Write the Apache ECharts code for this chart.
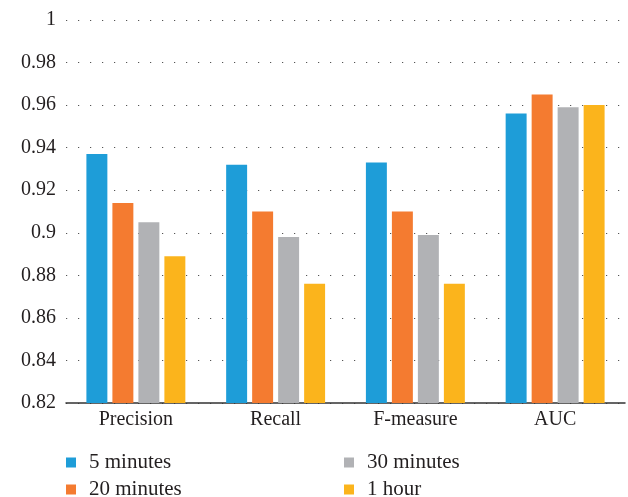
<!DOCTYPE html>
<html>
<head>
<meta charset="utf-8">
<script src="https://cdn.jsdelivr.net/npm/echarts@6/dist/echarts.min.js"></script>
<style>
  html, body { margin: 0; padding: 0; background: #fff; }
  #chart { width: 628px; height: 497px; }
</style>
</head>
<body>
<div id="chart"></div>
<script>
  var categories = ['Precision', 'Recall', 'F-measure', 'AUC']
  var min5 = [0.937, 0.932, 0.933, 0.956]
  var min20 = [0.914, 0.910, 0.910, 0.965]
  var min30 = [0.905, 0.898, 0.899, 0.959]
  var hour1 = [0.889, 0.876, 0.876, 0.960]
  var seriesNames = ['5 minutes', '20 minutes', '30 minutes', '1 hour']
  var colors = ['#1e9dd8', '#f47b30', '#b1b2b5', '#fbb41c']

  var font = 'Liberation Serif'
  var textColor = '#231f20'

  function bar(name, data) {
    return {
      name: name,
      type: 'bar',
      data: data,
      barWidth: '15%',
      barGap: '24%'
    }
  }

  // one legend per column, so the items stack like the original
  function legendBox(names, left) {
    return {
      data: names,
      orient: 'vertical',
      left: left,
      top: 452,
      height: 80,
      padding: 0,
      icon: 'rect',
      itemWidth: 10,
      itemHeight: 10,
      itemGap: 6,
      textStyle: {
        fontFamily: font,
        fontSize: 21,
        lineHeight: 20,
        color: textColor,
        padding: [0, 0, 0, 8]
      }
    }
  }

  var myChart = echarts.init(document.getElementById('chart'))
  myChart.setOption({
    color: colors,
    animation: false,
    grid: {
      left: 66,
      right: 3,
      top: 20,
      bottom: 94
    },
    legend: [
      legendBox([seriesNames[0], seriesNames[1]], 66),
      legendBox([seriesNames[2], seriesNames[3]], 344)
    ],
    xAxis: {
      type: 'category',
      data: categories,
      axisTick: { show: false },
      axisLine: { lineStyle: { color: '#333', width: 1.5 } },
      axisLabel: {
        fontFamily: font,
        fontSize: 20,
        color: textColor,
        margin: 7
      }
    },
    yAxis: {
      type: 'value',
      min: 0.82,
      max: 1,
      interval: 0.02,
      axisLine: { show: false },
      axisTick: { show: false },
      axisLabel: {
        fontFamily: font,
        fontSize: 20,
        color: textColor,
        margin: 10,
        formatter: function (v) { return String(+v.toFixed(2)) }
      },
      splitLine: {
        lineStyle: { color: '#555', width: 1.2, type: [1.2, 10.8] }
      }
    },
    series: [
      bar(seriesNames[0], min5),
      bar(seriesNames[1], min20),
      bar(seriesNames[2], min30),
      bar(seriesNames[3], hour1)
    ]
  })
</script>
</body>
</html>
